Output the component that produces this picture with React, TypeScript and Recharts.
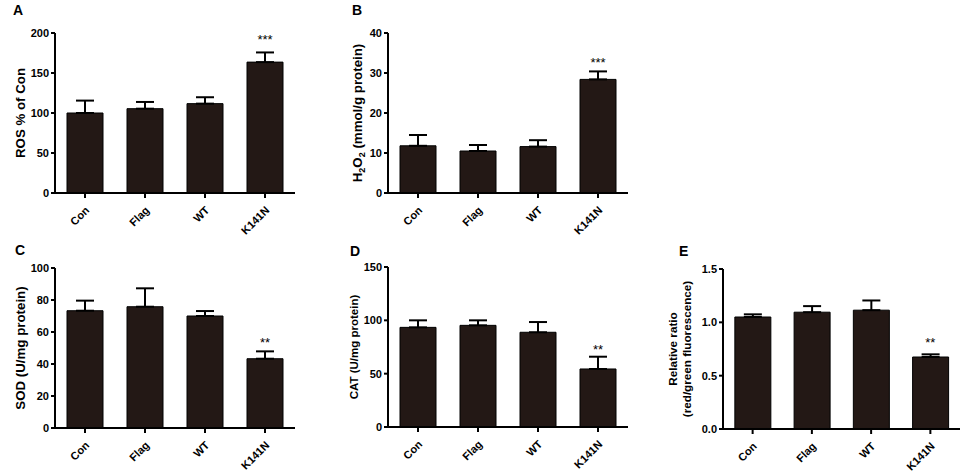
import React from 'react';
import { BarChart, Bar, XAxis, YAxis, ErrorBar, ReferenceDot } from 'recharts';

const FONT = "Arial, 'Liberation Sans', Helvetica, sans-serif";
const BAR_FILL = '#231815';

const categories = ['Con', 'Flag', 'WT', 'K141N'];

// A: ROS % of Con
const rosMean = [100, 105.4, 111.7, 163.6];
const rosErr = [15.5, 8.4, 8.0, 12.1];
const rosTicks = [0, 50, 100, 150, 200];
const rosSig = ['', '', '', '***'];
const rosSigY = 195;

// B: H2O2
const h2o2Mean = [11.8, 10.5, 11.6, 28.4];
const h2o2Err = [2.7, 1.5, 1.6, 2.0];
const h2o2Ticks = [0, 10, 20, 30, 40];
const h2o2Sig = ['', '', '', '***'];
const h2o2SigY = 33.3;

// C: SOD
const sodMean = [73.3, 75.8, 70.0, 43.3];
const sodErr = [6.3, 11.5, 3.1, 4.6];
const sodTicks = [0, 20, 40, 60, 80, 100];
const sodSig = ['', '', '', '**'];
const sodSigY = 55.2;

// D: CAT
const catMean = [93.4, 95.3, 88.8, 54.4];
const catErr = [6.6, 4.7, 9.6, 11.5];
const catTicks = [0, 50, 100, 150];
const catSig = ['', '', '', '**'];
const catSigY = 75;

// E: Relative ratio
const ratioMean = [1.05, 1.095, 1.114, 0.675];
const ratioErr = [0.025, 0.057, 0.091, 0.025];
const ratioTicks = [0, 0.5, 1.0, 1.5];
const ratioSig = ['', '', '', '**'];
const ratioSigY = 0.83;

const buildData = (means: number[], errs: number[], sig: string[]) =>
  categories.map((c, i) => ({ name: c, value: means[i], err: [0, errs[i]], sig: sig[i] }));

const XTick = (props: any) => {
  const x = Number(props.x);
  const y = Number(props.y);
  const tx = x + 5;
  const ty = y + 11;
  return (
    <text
      x={tx}
      y={ty}
      transform={`rotate(-45 ${tx} ${ty})`}
      textAnchor="end"
      fontSize={11}
      fontWeight="bold"
      fill="#000"
      fontFamily={FONT}
    >
      {props.payload.value}
    </text>
  );
};

type PanelProps = {
  left: number;
  top: number;
  width: number;
  height: number;
  yw: number;
  plotW: number;
  means: number[];
  errs: number[];
  sig: string[];
  sigY: number;
  ticks: number[];
  fmt?: (v: number) => string;
  letter: string;
  letterX: number;
  letterY: number;
  yLabel: (x: number, cy: number) => React.ReactNode;
};

const Panel = (p: PanelProps) => {
  const data = buildData(p.means, p.errs, p.sig);
  const sigIdx = p.sig.findIndex((s) => s !== '');
  return (
    <>
      <div
        style={{
          position: 'absolute',
          left: p.letterX,
          top: p.letterY - 12,
          fontFamily: FONT,
          fontWeight: 'bold',
          fontSize: 14,
          lineHeight: '14px',
          color: '#000',
        }}
      >
        {p.letter}
      </div>
      <div style={{ position: 'absolute', left: p.left, top: p.top }}>
        <BarChart
          width={p.width}
          height={p.height}
          data={data}
          margin={{ top: 33, right: p.width - p.yw - p.plotW, left: 0, bottom: 0 }}
          barCategoryGap="20%"
        >
          <XAxis
            dataKey="name"
            height={p.height - 33 - 160}
            axisLine={{ stroke: '#000', strokeWidth: 2 }}
            tickLine={{ stroke: '#000', strokeWidth: 2 }}
            tickSize={5}
            tickMargin={2}
            interval={0}
            tick={(tp: any) => <XTick {...tp} />}
          />
          <YAxis
            width={p.yw}
            domain={[p.ticks[0], p.ticks[p.ticks.length - 1]]}
            ticks={p.ticks}
            allowDataOverflow
            axisLine={{ stroke: '#000', strokeWidth: 2 }}
            tickLine={{ stroke: '#000', strokeWidth: 2 }}
            tickSize={4}
            tickMargin={2}
            tickFormatter={p.fmt}
            tick={{ fontSize: 11, fontWeight: 'bold', fill: '#000', fontFamily: FONT }}
            label={{
              content: (lp: any) => {
                const vb = lp.viewBox || { x: 0, y: 33, width: p.yw, height: 160 };
                return <g>{p.yLabel(vb.x, vb.y + vb.height / 2)}</g>;
              },
            }}
          />
          <Bar dataKey="value" fill={BAR_FILL} stroke="#000" strokeWidth={1} isAnimationActive={false}>
            <ErrorBar dataKey="err" width={9} stroke="#000" strokeWidth={2} direction="y" isAnimationActive={false} />
          </Bar>
          {sigIdx >= 0 && (
            <ReferenceDot
              x={categories[sigIdx]}
              y={p.sigY}
              r={0}
              fill="none"
              stroke="none"
              ifOverflow="visible"
              label={{
                content: (lp: any) => {
                  const vb = lp.viewBox;
                  return (
                    <text
                      x={vb.x + (vb.width || 0) / 2}
                      y={vb.y + (vb.height || 0) / 2 + 7}
                      textAnchor="middle"
                      fontSize={13}
                      fill="#000"
                      fontFamily={FONT}
                    >
                      {p.sig[sigIdx]}
                    </text>
                  );
                },
              }}
            />
          )}
        </BarChart>
      </div>
    </>
  );
};

const labelStyle = { fontFamily: FONT, fontWeight: 'bold' as const, fill: '#000' };

export default function App() {
  return (
    <div style={{ position: 'absolute', left: 0, top: 0, width: 964, height: 473, background: '#fff', overflow: 'hidden' }}>
      <Panel
        left={0}
        top={0}
        width={310}
        height={238}
        yw={55}
        plotW={240}
        means={rosMean}
        errs={rosErr}
        sig={rosSig}
        sigY={rosSigY}
        ticks={rosTicks}
        letter="A"
        letterX={13}
        letterY={15}
        yLabel={(x, cy) => (
          <text x={x + 25} y={cy} transform={`rotate(-90, ${x + 25}, ${cy})`} textAnchor="middle" fontSize={13.3} {...labelStyle}>
            ROS % of Con
          </text>
        )}
      />
      <Panel
        left={323}
        top={0}
        width={320}
        height={238}
        yw={65}
        plotW={240}
        means={h2o2Mean}
        errs={h2o2Err}
        sig={h2o2Sig}
        sigY={h2o2SigY}
        ticks={h2o2Ticks}
        letter="B"
        letterX={352}
        letterY={15}
        yLabel={(x, cy) => (
          <text x={x + 39} y={cy} transform={`rotate(-90, ${x + 39}, ${cy})`} textAnchor="middle" fontSize={13.3} {...labelStyle}>
            H<tspan fontSize={9} dy={3}>2</tspan>
            <tspan dy={-3}>O</tspan>
            <tspan fontSize={9} dy={3}>2</tspan>
            <tspan dy={-3}> (mmol/g protein)</tspan>
          </text>
        )}
      />
      <Panel
        left={0}
        top={235}
        width={310}
        height={238}
        yw={55}
        plotW={240}
        means={sodMean}
        errs={sodErr}
        sig={sodSig}
        sigY={sodSigY}
        ticks={sodTicks}
        letter="C"
        letterX={15}
        letterY={255}
        yLabel={(x, cy) => (
          <text x={x + 25} y={cy} transform={`rotate(-90, ${x + 25}, ${cy})`} textAnchor="middle" fontSize={13.3} {...labelStyle}>
            SOD (U/mg protein)
          </text>
        )}
      />
      <Panel
        left={323}
        top={234}
        width={320}
        height={238}
        yw={65}
        plotW={240}
        means={catMean}
        errs={catErr}
        sig={catSig}
        sigY={catSigY}
        ticks={catTicks}
        letter="D"
        letterX={350}
        letterY={256}
        yLabel={(x, cy) => (
          <text x={x + 35} y={cy} transform={`rotate(-90, ${x + 35}, ${cy})`} textAnchor="middle" fontSize={11.5} {...labelStyle}>
            CAT (U/mg protein)
          </text>
        )}
      />
      <Panel
        left={655}
        top={236}
        width={309}
        height={237}
        yw={68}
        plotW={237}
        means={ratioMean}
        errs={ratioErr}
        sig={ratioSig}
        sigY={ratioSigY}
        ticks={ratioTicks}
        fmt={(v) => v.toFixed(1)}
        letter="E"
        letterX={679}
        letterY={256}
        yLabel={(x, cy) => (
          <g>
            <text x={x + 22} y={cy} transform={`rotate(-90, ${x + 22}, ${cy})`} textAnchor="middle" fontSize={11.7} {...labelStyle}>
              Relative ratio
            </text>
            <text x={x + 36} y={cy} transform={`rotate(-90, ${x + 36}, ${cy})`} textAnchor="middle" fontSize={11.7} {...labelStyle}>
              (red/green fluorescence)
            </text>
          </g>
        )}
      />
    </div>
  );
}
